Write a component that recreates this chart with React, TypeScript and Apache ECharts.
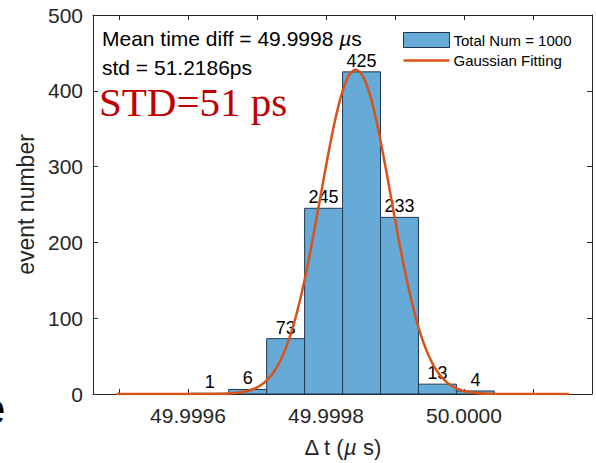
import React, { useEffect, useRef } from "react";
import * as echarts from "echarts";

// Histogram bins: offsets from 50 µs in picoseconds
const binStart = [-396, -341, -286, -231, -176, -121, -66, -11];
const binEnd = [-341, -286, -231, -176, -121, -66, -11, 44];
const counts = [1, 6, 73, 245, 425, 233, 13, 4];

// Gaussian fitting curve (ps offset, counts)
const fitX = [-504, -440, -380, -347, -332, -317, -307, -297, -287, -277, -267, -257, -247, -237, -227, -217, -207, -197, -187, -177, -167, -157, -147, -137, -127, -117, -107, -97, -87, -77, -67, -57, -47, -37, -27, -17, -7, 3, 18, 33, 70, 110, 152];
const fitY = [0, 0, 0.03, 0.44, 1.24, 3.2, 5.9, 10.2, 17.0, 27.4, 42.6, 63.5, 91.3, 126.3, 168.1, 215.4, 265.7, 315.4, 360.5, 396.5, 419.9, 428, 419.9, 396.5, 360.5, 315.4, 265.7, 215.4, 168.1, 126.3, 91.3, 63.5, 42.6, 27.4, 17.0, 10.2, 5.9, 3.2, 1.24, 0.44, 0.03, 0, 0];

const labeledTicks = [-400, -200, 0];
const xMin = -537.7;
const xMax = 185.5;
const yTicks = [0, 100, 200, 300, 400, 500];

const meanText = "Mean time diff = 49.9998 ";
const stdText = "std = 51.2186ps";
const stdBig = "STD=51 ps";
const barName = "Total Num = 1000";
const lineName = "Gaussian Fitting";

const SANS = "'Liberation Sans', Arial, Helvetica, sans-serif";
const SERIF = "'Liberation Serif', 'Times New Roman', serif";
const AX = "#262626";
const BAR = "#66AAD7";
const EDGE = "#22384f";
const LINE = "#D95319";
const LINE_ICON = "path://M0,0 L0,0 M0,6.25 L46,6.25 L46,8.75 L0,8.75 Z M46,15 L46,15";

export default function App() {
  const ref = useRef<HTMLDivElement>(null);
  useEffect(() => {
    if (!ref.current) return;
    const chart = echarts.init(ref.current, null, { renderer: "svg" });
    const barData = counts.map((c, i) => [binStart[i], binEnd[i], c]);
    const lineData = fitX.map((x, i) => [x, fitY[i]]);
    const xCommon = {
      type: "value",
      min: xMin,
      max: xMax,
      minInterval: 100,
      maxInterval: 100,
      splitLine: { show: false },
      axisLine: { show: true, onZero: false, lineStyle: { color: AX, width: 1 } },
      axisTick: { show: true, inside: true, length: 5, lineStyle: { color: AX } },
    };
    const yCommon = {
      type: "value",
      min: yTicks[0],
      max: yTicks[yTicks.length - 1],
      interval: 100,
      splitLine: { show: false },
      axisLine: { show: true, onZero: false, lineStyle: { color: AX, width: 1 } },
      axisTick: { show: true, inside: true, length: 5, lineStyle: { color: AX } },
    };
    chart.setOption({
      animation: false,
      grid: { left: 93, right: 4, top: 15, bottom: 67, containLabel: false },
      xAxis: [
        {
          ...xCommon,
          position: "bottom",
          name: "Δ t ({i|µ} s)",
          nameLocation: "middle",
          nameGap: 42,
          nameTextStyle: {
            fontFamily: SANS,
            fontSize: 22,
            color: AX,
            rich: { i: { fontStyle: "italic", fontFamily: SANS, fontSize: 22, color: AX } },
          },
          axisLabel: {
            fontFamily: SANS,
            fontSize: 21,
            color: AX,
            margin: 11,
            formatter: (v: number) =>
              labeledTicks.some((t) => Math.abs(t - v) < 1e-6) ? (50 + v / 1e6).toFixed(4) : "",
          },
        },
        {
          ...xCommon,
          position: "top",
          axisLabel: { show: false },
        },
      ],
      yAxis: [
        {
          ...yCommon,
          position: "left",
          name: "event number",
          nameLocation: "middle",
          nameGap: 35,
          nameTextStyle: { fontFamily: SANS, fontSize: 23, color: AX },
          axisLabel: { fontFamily: SANS, fontSize: 21, color: AX, margin: 10 },
        },
        {
          ...yCommon,
          position: "right",
          axisLabel: { show: false },
        },
      ],
      legend: {
        orient: "vertical",
        left: 403,
        top: 32,
        itemWidth: 46,
        itemHeight: 15,
        itemGap: 5,
        padding: 0,
        textStyle: { fontFamily: SANS, fontSize: 15, color: "#000", padding: [0, 0, 0, -1] },
        data: [
          { name: barName, icon: "rect", itemStyle: { color: BAR, borderColor: EDGE, borderWidth: 1 } },
          { name: lineName, icon: LINE_ICON, itemStyle: { color: LINE, borderWidth: 0 } },
        ],
      },
      series: [
        {
          name: barName,
          type: "custom",
          xAxisIndex: 0,
          yAxisIndex: 0,
          data: barData,
          encode: { x: [0, 1], y: 2 },
          itemStyle: { color: BAR },
          renderItem: (params: any, api: any) => {
            const x0 = api.value(0);
            const x1 = api.value(1);
            const c = api.value(2);
            const p0 = api.coord([x0, 0]);
            const p1 = api.coord([x1, c]);
            return {
              type: "rect",
              shape: { x: p0[0], y: p1[1], width: p1[0] - p0[0], height: p0[1] - p1[1] },
              style: { fill: BAR, stroke: EDGE, lineWidth: 1 },
              textContent: {
                style: { text: String(c), fontFamily: SANS, fontSize: 18, fill: "#000" },
              },
              textConfig: { position: "top", distance: 1.5 },
            };
          },
        },
        {
          name: lineName,
          type: "line",
          xAxisIndex: 0,
          yAxisIndex: 0,
          data: lineData,
          symbol: "none",
          smooth: 0.3,
          lineStyle: { color: LINE, width: 2.5 },
          itemStyle: { color: LINE },
          z: 5,
        },
      ],
      graphic: [
        {
          type: "text",
          x: 102,
          y: 38,
          style: {
            text: meanText + "{m|µ}s",
            fontFamily: SANS,
            fontSize: 21,
            fill: "#000",
            verticalAlign: "middle",
            rich: { m: { fontStyle: "italic", fontFamily: SANS, fontSize: 21, fill: "#000" } },
          },
        },
        {
          type: "text",
          x: 102,
          y: 67,
          style: { text: stdText, fontFamily: SANS, fontSize: 21, fill: "#000", verticalAlign: "middle" },
        },
        {
          type: "text",
          x: 99,
          y: 102,
          style: { text: stdBig, fontFamily: SERIF, fontSize: 41, fill: "#C00000", verticalAlign: "middle" },
        },
        {
          type: "text",
          x: -19,
          y: 408,
          style: { text: "e", fontFamily: SANS, fontSize: 44, fill: "#000", verticalAlign: "middle" },
        },
      ],
    });
    return () => chart.dispose();
  }, []);
  return (
    <div
      ref={ref}
      style={{ position: "fixed", left: 0, top: 0, width: 596, height: 463, background: "#fff" }}
    />
  );
}
